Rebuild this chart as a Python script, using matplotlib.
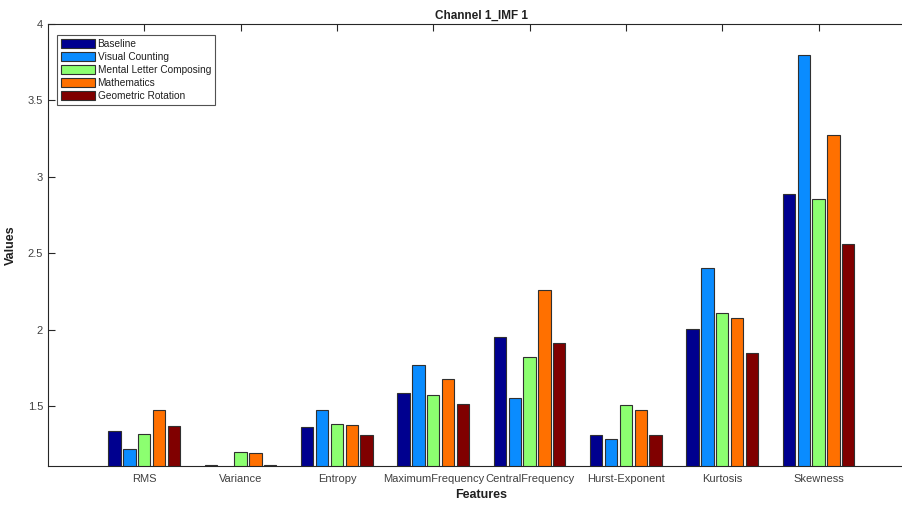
import matplotlib
matplotlib.use("Agg")
import matplotlib.pyplot as plt
import numpy as np

features = ["RMS", "Variance", "Entropy", "MaximumFrequency", "CentralFrequency",
            "Hurst-Exponent", "Kurtosis", "Skewness"]
conditions = ["Baseline", "Visual Counting", "Mental Letter Composing",
              "Mathematics", "Geometric Rotation"]

baseline = [1.338, 1.116, 1.363, 1.583, 1.953, 1.308, 2.002, 2.885]
visual_counting = [1.221, 1.090, 1.474, 1.768, 1.550, 1.286, 2.405, 3.797]
mental_letter = [1.319, 1.197, 1.380, 1.570, 1.819, 1.507, 2.111, 2.857]
mathematics = [1.474, 1.190, 1.374, 1.675, 2.259, 1.474, 2.076, 3.276]
geometric_rotation = [1.371, 1.116, 1.308, 1.511, 1.910, 1.308, 1.845, 2.560]

series = [baseline, visual_counting, mental_letter, mathematics, geometric_rotation]
colors = ["#00008F", "#0A8CFF", "#8CFF70", "#FF7000", "#800000"]

plt.rcParams["font.family"] = ["Liberation Sans", "DejaVu Sans"]
text_col = "#404040"

fig = plt.figure(figsize=(9.02, 5.05), dpi=100)
ax = fig.add_axes([0.0532, 0.0772, 0.9612, 0.8753])

x = np.arange(1, len(features) + 1)
pitch = 0.154
width = 0.128
for i, (vals, name, c) in enumerate(zip(series, conditions, colors)):
    offs = (i - 2) * pitch
    ax.bar(x + offs, vals, width=width, color=c, edgecolor="#303030",
           linewidth=0.8, label=name, zorder=2)

ax.set_xlim(0, 9)
ax.set_ylim(1.107, 4)
ax.set_yticks([1.5, 2, 2.5, 3, 3.5, 4])
ax.set_yticklabels(["1.5", "2", "2.5", "3", "3.5", "4"])
ax.set_xticks(x)
ax.set_xticklabels(features)

for s in ax.spines.values():
    s.set_color("#262626")
    s.set_linewidth(0.8)
ax.tick_params(direction="in", length=5, width=0.8, color="#262626",
               labelsize=8, labelcolor=text_col, top=True, right=True)
ax.tick_params(axis="x", pad=6)

ax.set_title("Channel 1_IMF 1", fontsize=8.5, fontweight="bold", color="#202020", pad=4)
ax.set_xlabel("Features", fontsize=9, fontweight="bold", color="#202020", labelpad=3)
ax.set_ylabel("Values", fontsize=9, fontweight="bold", color="#202020", labelpad=8)

leg = ax.legend(loc="upper left", bbox_to_anchor=(0.0104, 0.975), borderaxespad=0,
                fontsize=7.3, frameon=True, fancybox=False, handlelength=3.3,
                handleheight=0.95, handletextpad=0.3, labelspacing=0.3,
                borderpad=0.4)
leg.get_frame().set_edgecolor("#262626")
leg.get_frame().set_linewidth(0.8)
for t in leg.get_texts():
    t.set_color("#202020")

fig.savefig("out.png", dpi=100)
